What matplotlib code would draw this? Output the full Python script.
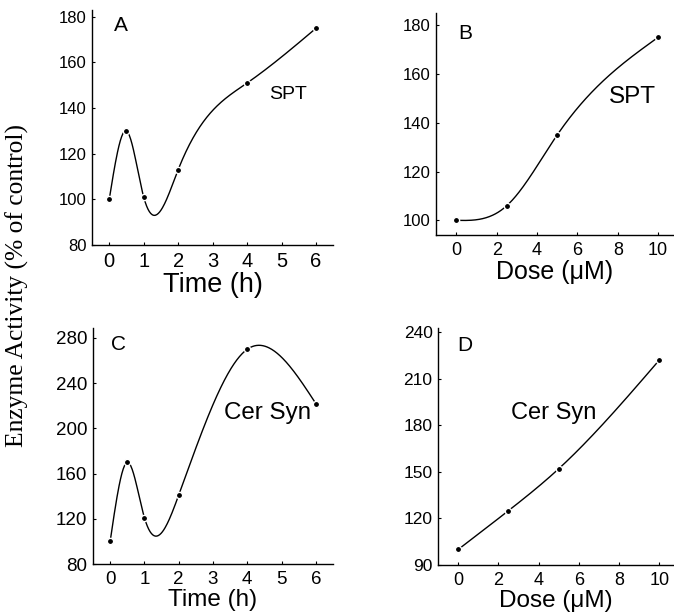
import numpy as np
import matplotlib
matplotlib.use('Agg')
import matplotlib.pyplot as plt

# Data
time_h = [0, 0.5, 1, 2, 4, 6]
spt_time = [100, 130, 101, 113, 151, 175]
cer_time = [100, 170, 121, 141, 270, 222]

dose_um = [0, 2.5, 5, 10]
spt_dose = [100, 106, 135, 175]
cer_dose = [100, 125, 152, 222]


def natural_spline(x, y, n=300):
    # smooth curve through the points (natural cubic spline)
    x = np.asarray(x, float)
    y = np.asarray(y, float)
    k = len(x)
    h = np.diff(x)
    A = np.zeros((k, k))
    b = np.zeros(k)
    A[0, 0] = 1
    A[-1, -1] = 1
    for i in range(1, k - 1):
        A[i, i - 1] = h[i - 1]
        A[i, i] = 2 * (h[i - 1] + h[i])
        A[i, i + 1] = h[i]
        b[i] = 6 * ((y[i + 1] - y[i]) / h[i] - (y[i] - y[i - 1]) / h[i - 1])
    M = np.linalg.solve(A, b)
    xs = np.linspace(x[0], x[-1], n)
    idx = np.clip(np.searchsorted(x, xs) - 1, 0, k - 2)
    x0, x1 = x[idx], x[idx + 1]
    hh = x1 - x0
    ys = (M[idx] * (x1 - xs) ** 3 / (6 * hh) + M[idx + 1] * (xs - x0) ** 3 / (6 * hh)
          + (y[idx] / hh - M[idx] * hh / 6) * (x1 - xs)
          + (y[idx + 1] / hh - M[idx + 1] * hh / 6) * (xs - x0))
    return xs, ys


plt.rcParams['font.family'] = 'Liberation Sans'
plt.rcParams['axes.linewidth'] = 1.0

fig = plt.figure(figsize=(6.74, 6.12), dpi=100)

panels = [
    dict(rect=[0.1365, 0.5997, 0.358, 0.384], x=time_h, y=spt_time, xlim=(-0.5, 6.5), ylim=(80, 183),
         yticks=range(80, 181, 20), xticks=range(0, 7), xlabel='Time (h)', letter='A',
         lpos=(0.35, 176), name='SPT', npos=(5.2, 146), ysize=12, xsize=14.5, labsize=19.5,
         namesize=14, xpad=5, labpad=1),
    dict(rect=[0.647, 0.616, 0.352, 0.363], x=dose_um, y=spt_dose, xlim=(-1, 10.75), ylim=(94, 185),
         yticks=range(100, 181, 20), xticks=range(0, 11, 2), xlabel='Dose (μM)', letter='B',
         lpos=(0.45, 176.5), name='SPT', npos=(8.7, 150.5), ysize=12, xsize=13, labsize=18,
         namesize=17.5, xpad=5, labpad=1),
    dict(rect=[0.138, 0.0784, 0.356, 0.386], x=time_h, y=cer_time, xlim=(-0.5, 6.5), ylim=(80, 289),
         yticks=range(80, 281, 40), xticks=range(0, 7), xlabel='Time (h)', letter='C',
         lpos=(0.24, 274), name='Cer Syn', npos=(4.6, 213.6), ysize=13.5, xsize=13.5, labsize=17.5,
         namesize=17.4, xpad=5, labpad=1),
    dict(rect=[0.65, 0.0768, 0.349, 0.387], x=dose_um, y=cer_dose, xlim=(-1, 10.7), ylim=(90, 242.6),
         yticks=range(90, 241, 30), xticks=range(0, 11, 2), xlabel='Dose (μM)', letter='D',
         lpos=(0.35, 231.6), name='Cer Syn', npos=(4.75, 188), ysize=12.5, xsize=13, labsize=17.5,
         namesize=17, xpad=5, labpad=1),
]

for p in panels:
    ax = fig.add_axes(p['rect'])
    xs, ys = natural_spline(p['x'], p['y'])
    ax.plot(xs, ys, color='black', lw=1.0)
    ax.plot(p['x'], p['y'], 'o', color='black', ms=4.5, mec='white', mew=1.0)
    ax.set_xlim(*p['xlim'])
    ax.set_ylim(*p['ylim'])
    ax.set_yticks(list(p['yticks']))
    ax.set_xticks(list(p['xticks']))
    ax.tick_params(direction='in', length=2)
    ax.tick_params(axis='y', labelsize=p['ysize'], pad=4)
    ax.tick_params(axis='x', labelsize=p['xsize'], pad=p['xpad'])
    ax.spines['top'].set_visible(False)
    ax.spines['right'].set_visible(False)
    ax.set_xlabel(p['xlabel'], fontsize=p['labsize'], labelpad=p['labpad'])
    ax.text(p['lpos'][0], p['lpos'][1], p['letter'], fontsize=15, ha='center', va='center')
    ax.text(p['npos'][0], p['npos'][1], p['name'], fontsize=p['namesize'], ha='center', va='center')

fig.text(0.026, 0.534, 'Enzyme Activity (% of control)', rotation=90,
         ha='center', va='center', fontsize=18.4, family='Liberation Serif')

fig.savefig('out.png', dpi=100)
